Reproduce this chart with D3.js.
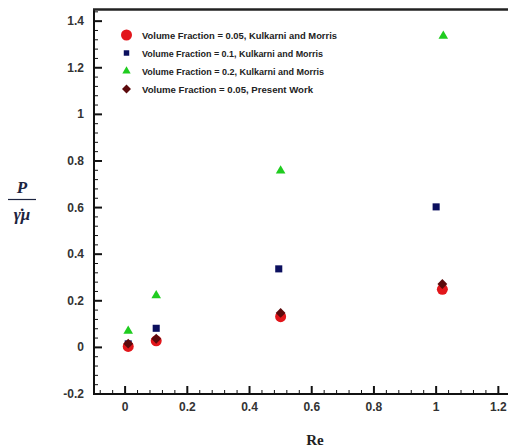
<!DOCTYPE html>
<html>
<head>
<meta charset="utf-8">
<script src="https://cdn.jsdelivr.net/npm/d3@7"></script>
<style>
  body { margin: 0; background: #fff; }
  svg { display: block; }
  .tick-label { font-family: Arial, "Liberation Sans", sans-serif; font-weight: bold; font-size: 12px; fill: #333; }
  .legend-text { font-family: "Liberation Sans Narrow", Arial, "Liberation Sans", sans-serif; font-weight: bold; font-size: 9px; fill: #222; }
</style>
</head>
<body>
<div id="chart"></div>
<script>
var width = 508, height = 447;

// data
var re_km = [0.01, 0.1, 0.5, 1.02];
var vf005_km = [0.004, 0.028, 0.132, 0.249];
var re_sq = [0.01, 0.1, 0.494, 1.0];
var vf01_km = [0.015, 0.082, 0.337, 0.603];
var re_tri = [0.01, 0.1, 0.5, 1.023];
var vf02_km = [0.07, 0.223, 0.758, 1.336];
var re_pw = [0.01, 0.1, 0.5, 1.02];
var vf005_pw = [0.016, 0.037, 0.148, 0.272];

var legend_labels = [
  "Volume Fraction = 0.05, Kulkarni and Morris",
  "Volume Fraction = 0.1, Kulkarni and Morris",
  "Volume Fraction = 0.2, Kulkarni and Morris",
  "Volume Fraction = 0.05, Present Work"
];
var x_ticks = [0, 0.2, 0.4, 0.6, 0.8, 1, 1.2];
var y_ticks = [-0.2, 0, 0.2, 0.4, 0.6, 0.8, 1, 1.2, 1.4];

var x = d3.scaleLinear().domain([-0.1, 1.25]).range([94, 513.9]);
var y = d3.scaleLinear().domain([-0.2, 1.45]).range([394, 9.5]);

var svg = d3.select("#chart").append("svg")
    .attr("width", width)
    .attr("height", height);

// minor ticks
var x_minor = d3.range(-0.08, 1.25, 0.04).filter(function(d) {
  return Math.abs(d / 0.2 - Math.round(d / 0.2)) > 0.01;
});
var y_minor = d3.range(-0.16, 1.45, 0.04).filter(function(d) {
  return Math.abs(d / 0.2 - Math.round(d / 0.2)) > 0.01;
});

svg.selectAll(".xminor").data(x_minor).enter().append("line")
    .attr("x1", function(d) { return x(d); })
    .attr("x2", function(d) { return x(d); })
    .attr("y1", y(-0.2)).attr("y2", y(-0.2) - 4)
    .attr("stroke", "#111").attr("stroke-width", 1);
svg.selectAll(".yminor").data(y_minor).enter().append("line")
    .attr("x1", x(-0.1)).attr("x2", x(-0.1) + 4)
    .attr("y1", function(d) { return y(d); })
    .attr("y2", function(d) { return y(d); })
    .attr("stroke", "#111").attr("stroke-width", 1);

// major ticks
svg.selectAll(".xmajor").data(x_ticks).enter().append("line")
    .attr("x1", function(d) { return x(d); })
    .attr("x2", function(d) { return x(d); })
    .attr("y1", y(-0.2)).attr("y2", y(-0.2) - 8)
    .attr("stroke", "#111").attr("stroke-width", 2);
svg.selectAll(".ymajor").data(y_ticks).enter().append("line")
    .attr("x1", x(-0.1)).attr("x2", x(-0.1) + 8)
    .attr("y1", function(d) { return y(d); })
    .attr("y2", function(d) { return y(d); })
    .attr("stroke", "#111").attr("stroke-width", 2);

// tick labels
svg.selectAll(".xlab").data(x_ticks).enter().append("text")
    .attr("class", "tick-label")
    .attr("x", function(d) { return x(d); })
    .attr("y", 411)
    .attr("text-anchor", "middle")
    .text(function(d) { return d; });
svg.selectAll(".ylab").data(y_ticks).enter().append("text")
    .attr("class", "tick-label")
    .attr("x", 84)
    .attr("y", function(d) { return y(d) + 4; })
    .attr("text-anchor", "end")
    .text(function(d) { return d; });

// frame
svg.append("line")
    .attr("x1", x(-0.1)).attr("x2", x(-0.1))
    .attr("y1", y(1.45)).attr("y2", y(-0.2))
    .attr("stroke", "#111").attr("stroke-width", 2);
svg.append("line")
    .attr("x1", x(-0.1) - 1).attr("x2", width)
    .attr("y1", y(-0.2)).attr("y2", y(-0.2))
    .attr("stroke", "#111").attr("stroke-width", 2);
svg.append("line")
    .attr("x1", x(-0.1) - 1).attr("x2", width)
    .attr("y1", y(1.45)).attr("y2", y(1.45))
    .attr("stroke", "#222").attr("stroke-width", 2.5);

// series
var sym_square = d3.symbol().type(d3.symbolSquare).size(50);
var sym_tri = d3.symbol().type(d3.symbolTriangle).size(40);
var sym_diamond = d3.symbol().type(d3.symbolSquare).size(48);

svg.selectAll(".tri").data(re_tri).enter().append("path")
    .attr("d", sym_tri)
    .attr("transform", function(d, i) { return "translate(" + x(d) + "," + y(vf02_km[i]) + ")"; })
    .attr("fill", "#1fcc1f");

svg.selectAll(".sq").data(re_sq).enter().append("path")
    .attr("d", sym_square)
    .attr("transform", function(d, i) { return "translate(" + x(d) + "," + y(vf01_km[i]) + ")"; })
    .attr("fill", "#0b0f5e");

svg.selectAll(".circ").data(re_km).enter().append("circle")
    .attr("cx", function(d) { return x(d); })
    .attr("cy", function(d, i) { return y(vf005_km[i]); })
    .attr("r", 5.5)
    .attr("fill", "#e2161b");

svg.selectAll(".dia").data(re_pw).enter().append("path")
    .attr("d", sym_diamond)
    .attr("transform", function(d, i) { return "translate(" + x(d) + "," + y(vf005_pw[i]) + ") rotate(45)"; })
    .attr("fill", "#5c0a0c");

// legend
var legend_y = [35, 53, 71, 89];
var lg = svg.append("g");
lg.append("circle").attr("cx", 126.5).attr("cy", legend_y[0]).attr("r", 5.5).attr("fill", "#e2161b");
lg.append("path").attr("d", d3.symbol().type(d3.symbolSquare).size(30))
    .attr("transform", "translate(126.5," + legend_y[1] + ")").attr("fill", "#0b0f5e");
lg.append("path").attr("d", d3.symbol().type(d3.symbolTriangle).size(30))
    .attr("transform", "translate(126.5," + legend_y[2] + ")").attr("fill", "#1fcc1f");
lg.append("path").attr("d", d3.symbol().type(d3.symbolSquare).size(40))
    .attr("transform", "translate(126.5," + legend_y[3] + ") rotate(45)").attr("fill", "#5c0a0c");

var legend_w = [195, 181, 182, 171];
lg.selectAll(".lt").data(legend_labels).enter().append("text")
    .attr("class", "legend-text")
    .attr("x", 142)
    .attr("y", function(d, i) { return legend_y[i] + 3.5; })
    .attr("textLength", function(d, i) { return legend_w[i]; })
    .attr("lengthAdjust", "spacingAndGlyphs")
    .text(function(d) { return d; });

// axis titles
svg.append("text")
    .attr("x", 315).attr("y", 445)
    .attr("text-anchor", "middle")
    .style("font-family", "'Liberation Serif', 'Times New Roman', serif")
    .style("font-weight", "bold")
    .style("font-size", "15px")
    .style("fill", "#222")
    .text("Re");

var yt = svg.append("g").style("font-family", "'Liberation Serif', 'Times New Roman', serif")
    .style("font-weight", "bold").style("font-style", "italic").style("fill", "#1c2440");
yt.append("text").attr("x", 22).attr("y", 193).attr("text-anchor", "middle")
    .style("font-size", "17px").text("P");
yt.append("line").attr("x1", 8).attr("x2", 36).attr("y1", 199.5).attr("y2", 199.5)
    .attr("stroke", "#1c2440").attr("stroke-width", 1.2);
yt.append("text").attr("x", 22).attr("y", 220).attr("text-anchor", "middle")
    .style("font-size", "17px").text("\u03B3\u0307\u03BC");
</script>
</body>
</html>
